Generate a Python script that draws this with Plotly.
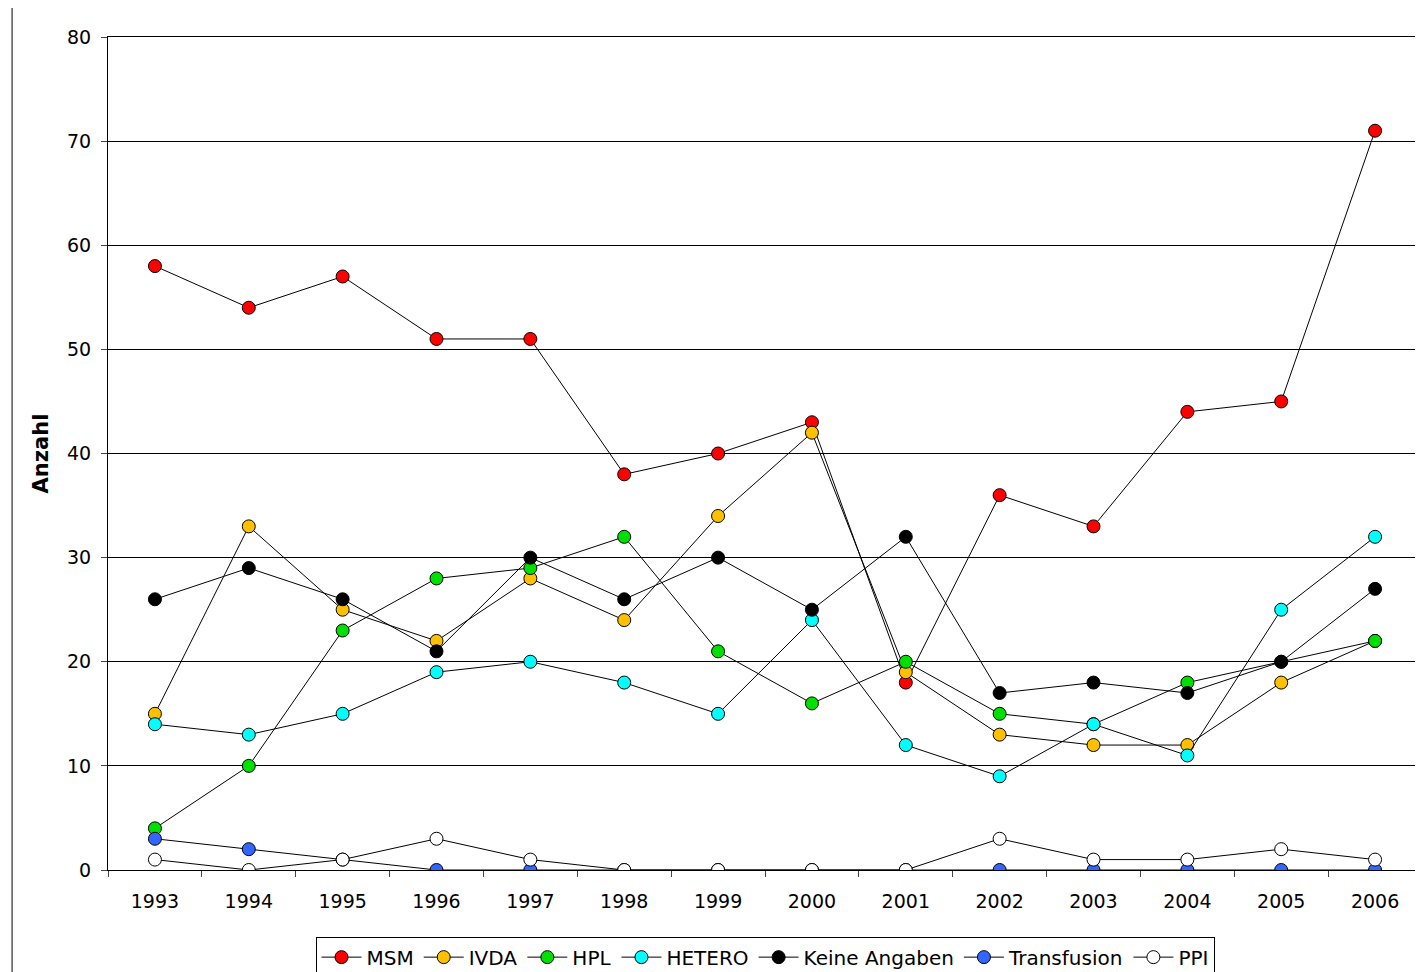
import plotly.graph_objects as go

years = [str(y) for y in range(1993, 2007)]

msm = [58, 54, 57, 51, 51, 38, 40, 43, 18, 36, 33, 44, 45, 71]
ivda = [15, 33, 25, 22, 28, 24, 34, 42, 19, 13, 12, 12, 18, 22]
hpl = [4, 10, 23, 28, 29, 32, 21, 16, 20, 15, 14, 18, 20, 22]
hetero = [14, 13, 15, 19, 20, 18, 15, 24, 12, 9, 14, 11, 25, 32]
keine = [26, 29, 26, 21, 30, 26, 30, 25, 32, 17, 18, 17, 20, 27]
transfusion = [3, 2, 1, 0, 0, 0, 0, 0, 0, 0, 0, 0, 0, 0]
ppi = [1, 0, 1, 3, 1, 0, 0, 0, 0, 3, 1, 1, 2, 1]

series = [
    ("MSM", msm, "#ff0000"),
    ("IVDA", ivda, "#ffc000"),
    ("HPL", hpl, "#00e000"),
    ("HETERO", hetero, "#00ffff"),
    ("Keine Angaben", keine, "#000000"),
    ("Transfusion", transfusion, "#3366ff"),
    ("PPI", ppi, "#ffffff"),
]

fig = go.Figure()
for name, vals, col in series:
    fig.add_trace(go.Scatter(
        x=years, y=vals, name=name, mode="lines+markers",
        line=dict(color="black", width=1),
        marker=dict(color=col, size=13, line=dict(color="black", width=1)),
    ))

fig.update_layout(
    width=1415, height=964,
    paper_bgcolor="white", plot_bgcolor="white",
    margin=dict(l=100, r=1, t=29, b=102, autoexpand=False),
    font=dict(family="DejaVu Sans", size=19, color="black"),
    showlegend=True,
    legend=dict(orientation="h", x=0.5, xanchor="center", y=-0.08, yanchor="top",
                bordercolor="black", borderwidth=1, font=dict(size=20), itemwidth=40),
    shapes=[dict(type="rect", xref="paper", yref="paper", x0=-0.073, x1=1.0, y0=-0.125, y1=1.04,
                 line=dict(color="black", width=1))],
)
fig.update_xaxes(type="category", tickson="boundaries", ticks="outside", ticklen=6,
                 ticklabelstandoff=14,
                 showline=True, mirror=True, linecolor="black", showgrid=False, range=[-0.5, 13.5])
fig.update_yaxes(range=[0, 80], dtick=10, ticks="outside", ticklen=6, showline=True,
                 ticklabelstandoff=6,
                 linecolor="black", gridcolor="black", gridwidth=1,
                 title=dict(text="<b>Anzahl</b>", standoff=12, font=dict(size=21)))
fig.write_html("out.html")
